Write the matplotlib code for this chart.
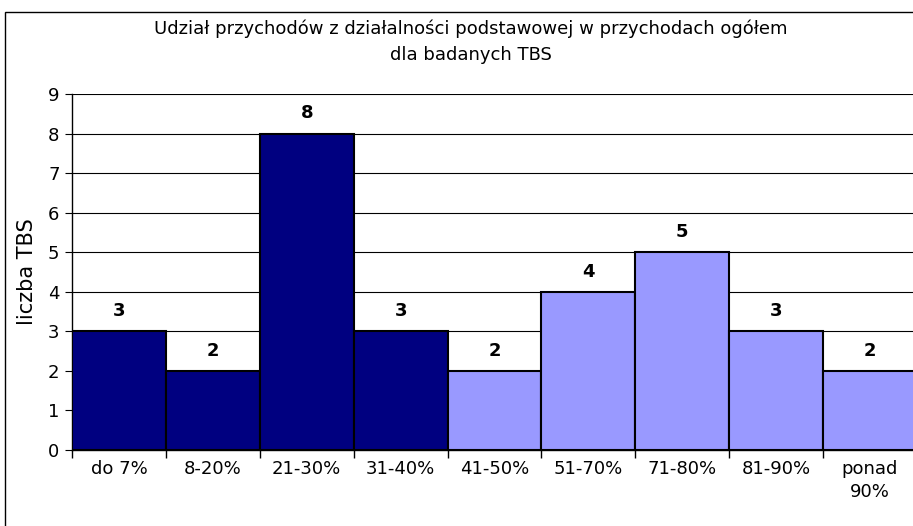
import matplotlib.pyplot as plt
from matplotlib.patches import Rectangle

categories = ['do 7%', '8-20%', '21-30%', '31-40%', '41-50%',
              '51-70%', '71-80%', '81-90%', 'ponad\n90%']
counts = [3, 2, 8, 3, 2, 4, 5, 3, 2]
colors = ['#000080'] * 4 + ['#9999FF'] * 5
title = 'Udział przychodów z działalności podstawowej w przychodach ogółem\ndla badanych TBS'

plt.rcParams['font.family'] = ['DejaVu Sans']

fig = plt.figure(figsize=(9.13, 5.26), dpi=100)
W, H = 913, 526

# outer chart frame
fig.patches.append(Rectangle((5 / W, -0.1), 1.1, (526 - 12) / H + 0.1,
                             transform=fig.transFigure, fill=False,
                             edgecolor='black', linewidth=1.0))

ax = fig.add_axes([72 / W, (526 - 450) / H, 845 / W, 356 / H])
x = list(range(len(categories)))
bars = ax.bar(x, counts, width=1.0, color=colors, edgecolor='black',
              linewidth=1.5, zorder=3)
ax.bar_label(bars, labels=[str(c) for c in counts], padding=8,
             fontsize=13, fontweight='bold')

ax.set_xlim(-0.5, len(categories) - 0.5)
ax.set_ylim(0, 9)
ax.set_yticks(range(10))
ax.yaxis.grid(True, color='black', linewidth=0.8, zorder=0)
ax.set_axisbelow(True)

ax.set_xticks([i - 0.5 for i in range(len(categories))] + [len(categories) - 0.5])
ax.set_xticklabels([])
ax.set_xticks(x, minor=True)
ax.set_xticklabels(categories, minor=True, fontsize=13, linespacing=1.35)
ax.tick_params(axis='x', which='minor', length=0, pad=7)
ax.tick_params(axis='x', which='major', length=6, direction='out', width=1)
ax.tick_params(axis='y', length=5, direction='out', labelsize=13, pad=4)

for s in ['top', 'right']:
    ax.spines[s].set_visible(False)
ax.spines['left'].set_linewidth(1)
ax.spines['bottom'].set_linewidth(1)

ax.set_ylabel('liczba TBS', fontsize=15, labelpad=8)
fig.text(471 / W, 1 - 42 / H, title, ha='center', va='center',
         fontsize=13, linespacing=1.55)

fig.savefig('out.png', dpi=100)
